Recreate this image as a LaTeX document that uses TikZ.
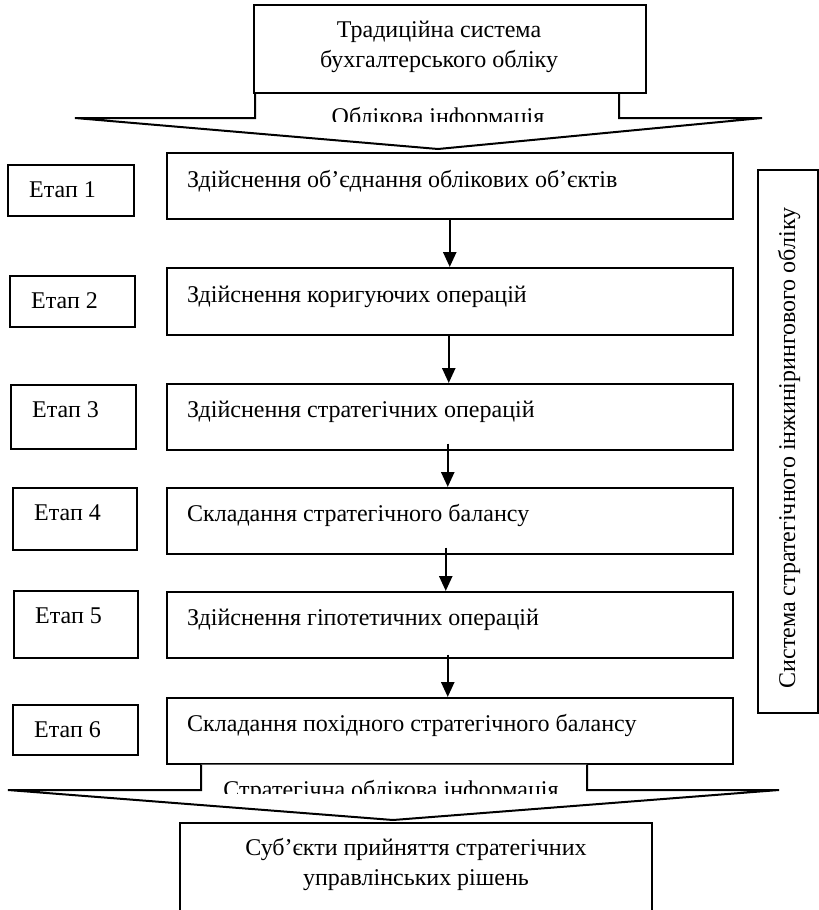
\documentclass[tikz,border=0pt]{standalone}
\usepackage{fontspec}
\setmainfont{Liberation Serif}
\usetikzlibrary{arrows.meta}
\begin{document}
\begin{tikzpicture}[x=1pt,y=-1pt,
  frame/.style={draw, line width=1.5pt, fill=white, inner sep=0pt, anchor=north west},
  calloutarrow/.style={draw, line width=2pt, fill=white, line join=miter},
  flow/.style={line width=2.5pt, -{Triangle[width=13pt,length=15pt]}},
  txt/.style={font=\fontsize{24}{30}\selectfont, inner sep=0pt},
  stagetxt/.style={txt, anchor=base west},
  steptxt/.style={txt, anchor=base west}]
\useasboundingbox (0,0) rectangle (819,910);

% incoming callout arrow under the source box
\draw[calloutarrow] (255,92) -- (255,118) -- (75,118) -- (438,149)
  -- (762,118) -- (619,118) -- (619,92);
\node[frame, minimum width=392pt, minimum height=88pt] (src) at (253,4) {};
\node[txt, align=center] (srct) at (439,47)
  {Традиційна система\\бухгалтерського обліку};
\begin{scope}
  \clip (257,100) rectangle (617,121);
  \node[txt, anchor=base] (infoin) at (438,124) {Облікова інформація};
\end{scope}

% stage labels
\node[frame, minimum width=126pt, minimum height=51pt] (e1) at (7,164) {};
\node[frame, minimum width=125pt, minimum height=51pt] (e2) at (9,275) {};
\node[frame, minimum width=125pt, minimum height=64pt] (e3) at (10,384) {};
\node[frame, minimum width=124pt, minimum height=62pt] (e4) at (12,487) {};
\node[frame, minimum width=124pt, minimum height=67pt] (e5) at (13,590) {};
\node[frame, minimum width=125pt, minimum height=50pt] (e6) at (12,704) {};
\node[stagetxt] at ([xshift=22pt,yshift=-33pt]e1.north west) {Етап 1};
\node[stagetxt] at ([xshift=22pt,yshift=-33pt]e2.north west) {Етап 2};
\node[stagetxt] at ([xshift=22pt,yshift=-33pt]e3.north west) {Етап 3};
\node[stagetxt] at ([xshift=22pt,yshift=-33pt]e4.north west) {Етап 4};
\node[stagetxt] at ([xshift=22pt,yshift=-33pt]e5.north west) {Етап 5};
\node[stagetxt] at ([xshift=22pt,yshift=-33pt]e6.north west) {Етап 6};

% procedure steps
\node[frame, minimum width=566pt, minimum height=66pt] (s1) at (166,152) {};
\node[frame, minimum width=566pt, minimum height=67pt] (s2) at (166,267) {};
\node[frame, minimum width=566pt, minimum height=66pt] (s3) at (166,383) {};
\node[frame, minimum width=566pt, minimum height=66pt] (s4) at (166,487) {};
\node[frame, minimum width=566pt, minimum height=66pt] (s5) at (166,591) {};
\node[frame, minimum width=566pt, minimum height=66pt] (s6) at (166,697) {};
\node[steptxt] at ([xshift=21pt,yshift=-35pt]s1.north west) {Здійснення об’єднання облікових об’єктів};
\node[steptxt] at ([xshift=21pt,yshift=-35pt]s2.north west) {Здійснення коригуючих операцій};
\node[steptxt] at ([xshift=21pt,yshift=-34pt]s3.north west) {Здійснення стратегічних операцій};
\node[steptxt] at ([xshift=21pt,yshift=-34pt]s4.north west) {Складання стратегічного балансу};
\node[steptxt] at ([xshift=21pt,yshift=-34pt]s5.north west) {Здійснення гіпотетичних операцій};
\node[steptxt] at ([xshift=21pt,yshift=-34pt]s6.north west) {Складання похідного стратегічного балансу};

\draw[flow] (s1.south) -- (s2.north);
\draw[flow] ([xshift=-1pt]s2.south) -- ([xshift=-1pt]s3.north);
\draw[flow] ([xshift=-2pt,yshift=7pt]s3.south) -- ([xshift=-2pt]s4.north);
\draw[flow] ([xshift=-4pt,yshift=7pt]s4.south) -- ([xshift=-4pt]s5.north);
\draw[flow] ([xshift=-2pt,yshift=4pt]s5.south) -- ([xshift=-2pt]s6.north);

% enclosing system label
\node[frame, minimum width=60pt, minimum height=543pt] (sys) at (757,169) {};
\node[txt, rotate=90] (syst) at (789,448) {Система стратегічного інжинірингового обліку};

% outgoing callout arrow
\draw[calloutarrow] (s6.south -| 201,0) -- (201,790) -- (8,790) -- (393,820)
  -- (779,790) -- (587,790) -- (s6.south -| 587,0);
\begin{scope}
  \clip (203,770) rectangle (585,793);
  \node[txt, anchor=base] (infoout) at (391,797) {Стратегічна облікова інформація};
\end{scope}

% decision makers (box runs past the lower edge)
\coordinate (dl) at (180,912);
\coordinate (dr) at (652,912);
\draw[line width=1.5pt] (dl) -- (180,823) -- (652,823) -- (dr);
\node[txt, align=center] (subj) at (416,864)
  {Суб’єкти прийняття стратегічних\\управлінських рішень};
\end{tikzpicture}
\end{document}
